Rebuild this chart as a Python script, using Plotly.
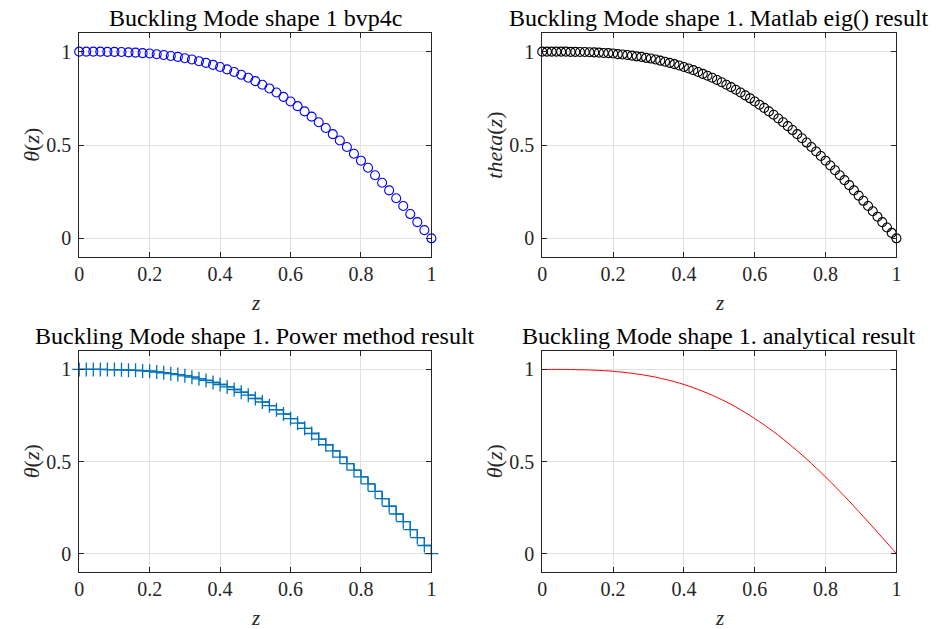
import plotly.graph_objects as go

# ---------------- data ----------------
z51 = [i / 50 for i in range(51)]
theta_bvp = [1.000, 1.000, 1.000, 1.000, 0.999, 0.999, 0.998, 0.996, 0.995, 0.992,
             0.990, 0.986, 0.982, 0.977, 0.972, 0.965, 0.958, 0.949, 0.940, 0.929,
             0.918, 0.905, 0.891, 0.876, 0.860, 0.842, 0.823, 0.803, 0.781, 0.758,
             0.733, 0.708, 0.680, 0.652, 0.622, 0.591, 0.558, 0.524, 0.489, 0.453,
             0.416, 0.378, 0.338, 0.298, 0.257, 0.215, 0.173, 0.130, 0.087, 0.044,
             0.000]
theta_power = list(theta_bvp)

z76 = [i / 75 for i in range(76)]
theta_eig = [1.000, 1.000, 1.000, 1.000, 1.000, 1.000, 0.999, 0.999, 0.998, 0.998,
             0.997, 0.996, 0.995, 0.993, 0.992, 0.990, 0.987, 0.985, 0.982, 0.979,
             0.975, 0.972, 0.967, 0.963, 0.958, 0.952, 0.946, 0.940, 0.933, 0.926,
             0.918, 0.910, 0.901, 0.891, 0.881, 0.871, 0.860, 0.848, 0.836, 0.823,
             0.810, 0.796, 0.781, 0.766, 0.750, 0.733, 0.716, 0.699, 0.680, 0.662,
             0.642, 0.622, 0.601, 0.580, 0.558, 0.536, 0.513, 0.489, 0.465, 0.441,
             0.416, 0.390, 0.365, 0.338, 0.312, 0.285, 0.257, 0.229, 0.201, 0.173,
             0.145, 0.116, 0.087, 0.058, 0.029, 0.000]
theta_analytic = list(theta_eig)

titles = ["Buckling Mode shape 1 bvp4c",
          "Buckling Mode shape 1. Matlab eig() result",
          "Buckling Mode shape 1. Power method result",
          "Buckling Mode shape 1. analytical result"]
ylabels = ["<i>θ</i>(<i>z</i>)", "<i>theta</i>(<i>z</i>)",
           "<i>θ</i>(<i>z</i>)", "<i>θ</i>(<i>z</i>)"]
xlabel = "<i>z</i>"
xticks = [0, 0.2, 0.4, 0.6, 0.8, 1]
xticktext = ["0", "0.2", "0.4", "0.6", "0.8", "1"]
yticks = [0, 0.5, 1]
yticktext = ["0", "0.5", "1"]

# ---------------- figure ----------------
W, H = 940, 629
FONT = "Liberation Serif"
AX = "#262626"

fig = go.Figure()
fig.add_trace(go.Scatter(x=z51, y=theta_bvp, mode="markers",
                         marker=dict(symbol="circle-open", size=9, color="#0000FF",
                                     line=dict(width=1.1, color="#0000FF")),
                         cliponaxis=False, xaxis="x", yaxis="y", showlegend=False))
fig.add_trace(go.Scatter(x=z76, y=theta_eig, mode="markers",
                         marker=dict(symbol="circle-open", size=9, color="#000000",
                                     line=dict(width=1.1, color="#000000")),
                         cliponaxis=False, xaxis="x2", yaxis="y2", showlegend=False))
fig.add_trace(go.Scatter(x=z51, y=theta_power, mode="lines+markers",
                         line=dict(shape="hv", color="#0072BD", width=1.3),
                         marker=dict(symbol="cross-thin-open", size=10,
                                     line=dict(width=1.3, color="#0072BD")),
                         cliponaxis=False, xaxis="x3", yaxis="y3", showlegend=False))
fig.add_trace(go.Scatter(x=z76, y=theta_analytic, mode="lines",
                         line=dict(color="#FF0000", width=1, shape="spline"),
                         xaxis="x4", yaxis="y4", showlegend=False))

# axis pixel boxes: (left, right, top, bottom)
boxes = [(75, 431, 33, 257), (543, 901, 33, 257),
         (75, 431, 351, 572), (543, 901, 351, 572)]

def xdom(l, r):
    return [l / W, r / W]

def ydom(t, b):
    return [1 - b / H, 1 - t / H]

common = dict(showline=True, linecolor=AX, linewidth=1, mirror="ticks",
              ticks="inside", ticklen=5, tickcolor=AX, tickwidth=1,
              showgrid=True, gridcolor="#e1e1e1", gridwidth=1, zeroline=False,
              tickfont=dict(family=FONT, size=20, color=AX))

layout = dict(width=W, height=H, margin=dict(l=0, r=0, t=0, b=0),
              paper_bgcolor="white", plot_bgcolor="white", showlegend=False)
annotations = []
for i, (l, r, t, b) in enumerate(boxes):
    sfx = "" if i == 0 else str(i + 1)
    layout["xaxis" + sfx] = dict(common, domain=xdom(l, r), range=[0, 1],
                                 tickvals=xticks, ticktext=xticktext,
                                 anchor="y" + sfx, ticklabelstandoff=-1)
    layout["yaxis" + sfx] = dict(common, domain=ydom(t, b), range=[-0.1, 1.1],
                                 tickvals=yticks, ticktext=yticktext,
                                 anchor="x" + sfx, ticklabelstandoff=3)
    cx = (l + r) / 2
    annotations.append(dict(text=titles[i], x=cx / W, y=1 - (t - 15) / H,
                            xref="paper", yref="paper", showarrow=False,
                            xanchor="center", yanchor="middle",
                            font=dict(family=FONT, size=24, color="#000000")))
    annotations.append(dict(text=xlabel, x=cx / W, y=1 - (b + 46) / H,
                            xref="paper", yref="paper", showarrow=False,
                            xanchor="center", yanchor="middle",
                            font=dict(family=FONT, size=21, color=AX)))
    annotations.append(dict(text=ylabels[i], x=(l - 48) / W, y=1 - ((t + b) / 2) / H,
                            xref="paper", yref="paper", showarrow=False,
                            xanchor="center", yanchor="middle", textangle=-90,
                            font=dict(family=FONT, size=22, color=AX)))
layout["annotations"] = annotations
fig.update_layout(**layout)
fig.write_html("out.html", config={"displayModeBar": False},
               post_script="document.body.style.margin='0';document.body.style.padding='0';"
                           "document.body.style.overflow='hidden';")
